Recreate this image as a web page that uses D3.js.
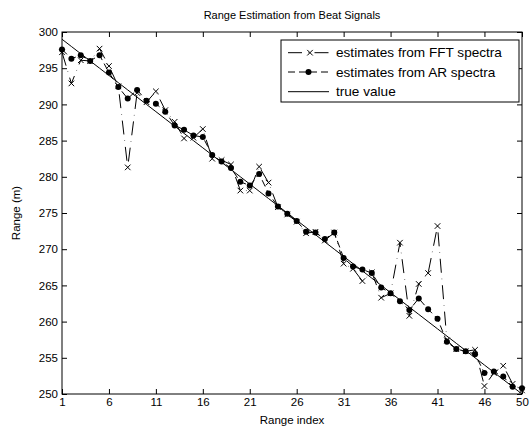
<!DOCTYPE html>
<html>
<head>
<meta charset="utf-8">
<script src="https://cdn.jsdelivr.net/npm/d3@7"></script>
<style>
  body { margin: 0; background: #fff; }
  text { font-family: "Liberation Sans", Arial, sans-serif; fill: #000; }
</style>
</head>
<body>
<div id="chart"></div>
<script>
// range index 1..50
var rangeIndex = d3.range(1, 51);

var fftEstimates = [297.2, 292.9, 296.1, 296.0, 297.7, 295.3, 292.5, 281.3, 291.6, 290.3,
  291.8, 289.2, 287.6, 285.3, 285.4, 286.6, 282.5, 282.3, 281.7, 278.1,
  278.1, 281.4, 279.2, 275.8, 274.8, 273.8, 272.2, 272.4, 271.2, 272.3,
  268.0, 267.3, 265.6, 266.8, 263.3, 263.9, 270.9, 260.8, 265.2, 266.7,
  273.2, 257.4, 256.2, 255.9, 256.1, 251.1, 252.9, 253.9, 251.4, 250.5];

var arEstimates = [297.6, 296.3, 296.8, 296.0, 296.8, 294.4, 292.4, 290.8, 292.0, 290.5,
  290.1, 289.0, 287.1, 286.5, 285.7, 285.5, 283.0, 282.1, 281.2, 279.3,
  278.8, 280.4, 277.7, 275.9, 274.9, 273.9, 272.4, 272.3, 271.4, 272.3,
  268.8, 267.6, 267.2, 266.7, 264.7, 263.9, 262.8, 261.6, 263.2, 261.7,
  260.4, 257.2, 256.2, 255.9, 255.5, 252.9, 253.1, 252.4, 251.0, 250.8];

var trueValue = [299, 298, 297, 296, 295, 294, 293, 292, 291, 290,
  289, 288, 287, 286, 285, 284, 283, 282, 281, 280,
  279, 278, 277, 276, 275, 274, 273, 272, 271, 270,
  269, 268, 267, 266, 265, 264, 263, 262, 261, 260,
  259, 258, 257, 256, 255, 254, 253, 252, 251, 250];

var xTicks = [1, 6, 11, 16, 21, 26, 31, 36, 41, 46, 50];
var yTicks = [250, 255, 260, 265, 270, 275, 280, 285, 290, 295, 300];

var legendLabels = ["estimates from FFT spectra", "estimates from AR spectra", "true value"];

var svgWidth = 532;
var svgHeight = 432;
var margin = { top: 32, right: 10, bottom: 38, left: 62 };
var width = svgWidth - margin.left - margin.right;
var height = svgHeight - margin.top - margin.bottom;

var svg = d3.select("#chart")
  .append("svg")
  .attr("width", svgWidth)
  .attr("height", svgHeight);

var chartGroup = svg.append("g")
  .attr("transform", `translate(${margin.left}, ${margin.top})`);

var xScale = d3.scaleLinear().domain([1, 50]).range([0, width]);
var yScale = d3.scaleLinear().domain([250, 300]).range([height, 0]);

// axes, ticks pointing inwards like matlab
function styleAxis(g) {
  g.select(".domain").remove();
  g.selectAll("line").attr("stroke", "#000");
  g.selectAll("text").attr("font-size", "11.5px").attr("fill", "#000");
}

chartGroup.append("g")
  .attr("transform", `translate(0, ${height})`)
  .call(d3.axisBottom(xScale).tickValues(xTicks).tickSize(-5).tickSizeOuter(0).tickPadding(4))
  .call(styleAxis);

chartGroup.append("g")
  .call(d3.axisTop(xScale).tickValues(xTicks).tickSize(-5).tickSizeOuter(0).tickFormat(""))
  .call(styleAxis);

chartGroup.append("g")
  .call(d3.axisLeft(yScale).tickValues(yTicks).tickSize(-5).tickSizeOuter(0).tickPadding(4))
  .call(styleAxis);

chartGroup.append("g")
  .attr("transform", `translate(${width}, 0)`)
  .call(d3.axisRight(yScale).tickValues(yTicks).tickSize(-5).tickSizeOuter(0).tickFormat(""))
  .call(styleAxis);

chartGroup.append("rect")
  .attr("width", width)
  .attr("height", height)
  .attr("fill", "none")
  .attr("stroke", "#000")
  .attr("stroke-width", 1);

// lines
var line = d3.line()
  .x((d, i) => xScale(rangeIndex[i]))
  .y(d => yScale(d));

var fftDash = "14,6,0.5,6";
var arDash = "7,4";

chartGroup.append("path")
  .datum(fftEstimates)
  .attr("d", line)
  .attr("fill", "none")
  .attr("stroke", "#000")
  .attr("stroke-width", 1)
  .attr("stroke-dasharray", fftDash);

chartGroup.append("path")
  .datum(arEstimates)
  .attr("d", line)
  .attr("fill", "none")
  .attr("stroke", "#000")
  .attr("stroke-width", 1)
  .attr("stroke-dasharray", arDash);

chartGroup.append("path")
  .datum(trueValue)
  .attr("d", line)
  .attr("fill", "none")
  .attr("stroke", "#000")
  .attr("stroke-width", 1);

// markers
var cross = d3.symbol().type(d3.symbolX).size(22);

chartGroup.selectAll(".fft-mark")
  .data(fftEstimates)
  .enter()
  .append("path")
  .attr("class", "fft-mark")
  .attr("d", cross)
  .attr("transform", (d, i) => `translate(${xScale(rangeIndex[i])}, ${yScale(d)})`)
  .attr("fill", "none")
  .attr("stroke", "#000")
  .attr("stroke-width", 1);

chartGroup.selectAll(".ar-mark")
  .data(arEstimates)
  .enter()
  .append("circle")
  .attr("class", "ar-mark")
  .attr("cx", (d, i) => xScale(rangeIndex[i]))
  .attr("cy", d => yScale(d))
  .attr("r", 3)
  .attr("fill", "#000");

// legend
var legend = svg.append("g").attr("transform", "translate(281, 40)");

legend.append("rect")
  .attr("width", 238)
  .attr("height", 62)
  .attr("fill", "#fff")
  .attr("stroke", "#000")
  .attr("stroke-width", 1);

var rowY = [12.7, 32, 51.7];
var dashes = [fftDash, arDash, null];

legendLabels.forEach(function(label, i) {
  legend.append("line")
    .attr("x1", 7).attr("x2", 48)
    .attr("y1", rowY[i]).attr("y2", rowY[i])
    .attr("stroke", "#000")
    .attr("stroke-width", 1)
    .attr("stroke-dasharray", dashes[i]);
  legend.append("text")
    .attr("x", 55)
    .attr("y", rowY[i])
    .attr("dy", "0.35em")
    .attr("font-size", "13.6px")
    .text(label);
});

legend.append("path")
  .attr("d", cross)
  .attr("transform", `translate(29, ${rowY[0]})`)
  .attr("fill", "none")
  .attr("stroke", "#000");

legend.append("circle")
  .attr("cx", 27.5)
  .attr("cy", rowY[1])
  .attr("r", 3)
  .attr("fill", "#000");

// title and axis labels
svg.append("text")
  .attr("x", margin.left + width / 2)
  .attr("y", 19)
  .attr("text-anchor", "middle")
  .attr("font-size", "11px")
  .text("Range Estimation from Beat Signals");

svg.append("text")
  .attr("x", margin.left + width / 2)
  .attr("y", 424)
  .attr("text-anchor", "middle")
  .attr("font-size", "11.5px")
  .text("Range index");

svg.append("text")
  .attr("transform", `translate(20, ${margin.top + height / 2}) rotate(-90)`)
  .attr("text-anchor", "middle")
  .attr("font-size", "11.5px")
  .text("Range (m)");
</script>
</body>
</html>
